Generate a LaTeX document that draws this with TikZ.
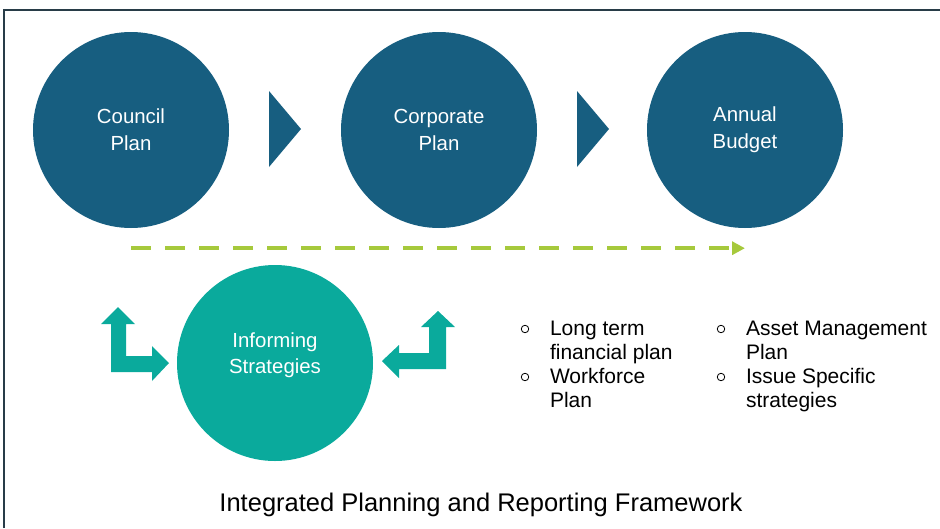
\documentclass[tikz,border=0pt]{standalone}
\usepackage{fontspec}
\setmainfont{Liberation Sans}
\usepackage{xcolor}
\usepackage{tikz}
\usetikzlibrary{arrows.meta, positioning}

\definecolor{planblue}{RGB}{23,94,128}
\definecolor{stratteal}{RGB}{10,170,156}
\definecolor{flowgreen}{RGB}{166,201,60}
\definecolor{framegrey}{RGB}{40,60,72}

\begin{document}
\begin{tikzpicture}[x=1pt, y=-1pt, >=Triangle,
  plan node/.style={circle, fill=planblue, minimum size=196pt, inner sep=0pt,
    text=white, align=center, font=\fontsize{20.4}{27}\selectfont},
  strat node/.style={plan node, fill=stratteal},
  strat label/.style={align=center, text=white, yshift=8pt,
    font=\fontsize{20.4}{26}\selectfont},
  item node/.style={anchor=text, align=left, inner sep=0pt,
    font=\fontsize{21}{24}\selectfont},
  bullet/.style={circle, draw, line width=0.8pt, minimum size=7.5pt, inner sep=0pt},
  step arrow/.style={fill=planblue},
  loop arrow/.style={fill=stratteal},
  flow/.style={->, draw=flowgreen, line width=4.5pt, dash pattern=on 20pt off 14pt,
    arrows={-Triangle[length=13pt, width=13pt, fill=flowgreen]}}]

  \useasboundingbox (0,0) rectangle (940,528);
  \draw[framegrey, line width=1.5pt] (4,528) -- (4,10) -- (940,10);

  % planning circles
  \node[plan node] (council) at (131,130) {Council\\Plan};
  \node[plan node] (corp) at (439,130) {Corporate\\Plan};
  \node[plan node] (annual) at (745,130) {Annual\\Budget};

  \fill[step arrow] (269,91) -- (301,129) -- (269,167) -- cycle;
  \fill[step arrow] (577,91) -- (609,129) -- (577,167) -- cycle;

  \draw[flow] ([yshift=-20pt]council.south) -- ([yshift=-20pt]annual.south);

  % informing strategies
  \node[strat node, label={[strat label]center:Informing\\Strategies}] (strat) at (275,363) {};

  \fill[loop arrow] (118,307) -- (135,324) -- (126,324) -- (126,356) -- (152,356)
    -- (152,346) -- (169,363) -- (152,381) -- (152,372) -- (111,372) -- (111,324)
    -- (101,324) -- cycle;
  \fill[loop arrow] (438,311) -- (455,327) -- (446,327) -- (446,369) -- (399,369)
    -- (399,378) -- (382,361) -- (399,345) -- (399,353) -- (429,353) -- (429,327)
    -- (421,327) -- cycle;

  % strategy list (text anchor sits on the second line)
  \node[item node] (ltfp) at (550,359) {Long term\\financial plan};
  \node[item node] (wfp) at (550,407) {Workforce\\Plan};
  \node[item node] (amp) at (746,359) {Asset Management\\Plan};
  \node[item node] (iss) at (746,407) {Issue Specific\\strategies};
  \foreach \it in {ltfp, wfp, amp, iss}
    \node[bullet] at ([xshift=-25pt, yshift=30pt]\it.text) {};

  \node[anchor=base, font=\fontsize{25.5}{30}\selectfont] (title) at (481,511)
    {Integrated Planning and Reporting Framework};
\end{tikzpicture}
\end{document}
